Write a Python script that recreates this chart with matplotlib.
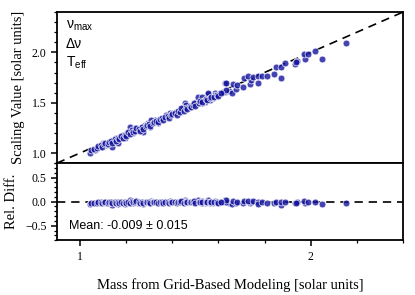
import numpy as np
import matplotlib
matplotlib.use("Agg")
import matplotlib.pyplot as plt
from matplotlib.ticker import MultipleLocator, FixedLocator

plt.rcParams['font.family'] = ['Liberation Serif', 'DejaVu Serif']
plt.rcParams['mathtext.fontset'] = 'custom'
plt.rcParams['mathtext.rm'] = 'Liberation Sans'

# mass from grid-based modeling vs. scaling-relation value
mass = [
    1.043, 1.065, 1.086, 1.100, 1.115, 1.129, 1.144, 1.158, 1.173, 1.187,
    1.202, 1.216, 1.223, 1.238, 1.252, 1.267, 1.281, 1.295, 1.310, 1.324,
    1.339, 1.137, 1.165, 1.194, 1.230, 1.274, 1.303,
    1.310, 1.317, 1.332, 1.353, 1.367, 1.375, 1.389, 1.403, 1.418, 1.432,
    1.454, 1.447, 1.461, 1.476, 1.490, 1.505, 1.512, 1.526, 1.541, 1.562,
    1.555, 1.577, 1.584, 1.606, 1.630, 1.630,
    1.530, 1.530, 1.540, 1.555, 1.575, 1.585, 1.605, 1.620,
    1.645, 1.635, 1.635, 1.660, 1.675, 1.665, 1.680, 1.705,
    1.735, 1.740, 1.710, 1.730, 1.750, 1.770, 1.770,
    1.790, 1.810, 1.870, 1.840, 1.850, 1.870, 1.890, 1.930, 1.940, 1.935,
    1.975, 1.970, 1.990, 2.020, 2.050, 2.155,
    1.050, 1.060, 1.075, 1.080, 1.090, 1.095, 1.105, 1.110, 1.120, 1.125,
    1.135, 1.140, 1.150, 1.155, 1.165, 1.170, 1.180, 1.185, 1.195, 1.200,
    1.210, 1.215, 1.225, 1.230, 1.240, 1.245, 1.255, 1.260, 1.270, 1.275,
    1.285, 1.290, 1.300, 1.305, 1.315, 1.320, 1.330, 1.340, 1.345, 1.355,
    1.360, 1.370, 1.380, 1.385, 1.395, 1.400, 1.410, 1.420, 1.425, 1.435,
    1.440, 1.450, 1.460, 1.465, 1.475, 1.480, 1.490, 1.495, 1.500, 1.515,
    1.520, 1.530, 1.545, 1.550, 1.565, 1.570, 1.580, 1.595, 1.600, 1.610,
]
scaling = [
    0.996, 1.029, 1.062, 1.096, 1.079, 1.112, 1.128, 1.145, 1.161, 1.178,
    1.195, 1.260, 1.211, 1.245, 1.228, 1.260, 1.277, 1.294, 1.310, 1.327,
    1.294, 1.062, 1.096, 1.145, 1.195, 1.211, 1.260,
    1.327, 1.294, 1.310, 1.327, 1.344, 1.376, 1.393, 1.393, 1.409, 1.426,
    1.493, 1.443, 1.476, 1.459, 1.476, 1.509, 1.559, 1.493, 1.509, 1.526,
    1.585, 1.542, 1.592, 1.592, 1.695, 1.605,
    1.495, 1.555, 1.525, 1.595, 1.555, 1.575, 1.595, 1.605,
    1.615, 1.625, 1.695, 1.595, 1.635, 1.685, 1.675, 1.655,
    1.690, 1.730, 1.750, 1.770, 1.760, 1.770, 1.700,
    1.770, 1.770, 1.750, 1.790, 1.850, 1.850, 1.890, 1.880, 1.910, 1.900,
    1.930, 1.980, 1.980, 2.010, 1.930, 2.090,
    1.030, 1.040, 1.050, 1.070, 1.080, 1.060, 1.090, 1.100, 1.090, 1.110,
    1.120, 1.100, 1.140, 1.120, 1.150, 1.140, 1.170, 1.150, 1.180, 1.170,
    1.210, 1.190, 1.230, 1.210, 1.220, 1.250, 1.240, 1.220, 1.260, 1.240,
    1.270, 1.280, 1.290, 1.270, 1.300, 1.310, 1.320, 1.310, 1.340, 1.350,
    1.330, 1.360, 1.370, 1.350, 1.380, 1.390, 1.400, 1.380, 1.420, 1.410,
    1.450, 1.420, 1.450, 1.440, 1.470, 1.460, 1.480, 1.500, 1.470, 1.500,
    1.520, 1.510, 1.540, 1.530, 1.550, 1.560, 1.560, 1.580, 1.570, 1.600,
]
mass = np.array(mass)
scaling = np.array(scaling)
rel_diff = (scaling - mass) / mass

xlim = (0.9, 2.4)
dot = dict(s=24, color='#14149e', alpha=0.8, edgecolors='white', linewidths=0.6, zorder=3)
sans = ['Liberation Sans', 'DejaVu Sans']

fig = plt.figure(figsize=(4.15, 2.95), dpi=100)
ax1 = fig.add_axes([0.137, 0.447, 0.834, 0.512])
ax2 = fig.add_axes([0.137, 0.186, 0.834, 0.261])

ax1.plot(xlim, xlim, color='black', linestyle=(0, (5, 3.5)), linewidth=1.2, zorder=2)
ax1.scatter(mass, scaling, **dot)
ax1.set_xlim(*xlim)
ax1.set_ylim(0.9, 2.4)
ax1.yaxis.set_major_locator(FixedLocator([1.0, 1.5, 2.0]))
ax1.yaxis.set_minor_locator(MultipleLocator(0.1))
ax1.set_xticks([])
ax1.set_ylabel("Scaling Value [solar units]", fontsize=10.5, labelpad=5)

ax1.text(0.025, 0.89, "ν$_{\\rm max}$", transform=ax1.transAxes, fontsize=10, family=sans)
ax1.text(0.025, 0.76, "Δν", transform=ax1.transAxes, fontsize=10, family=sans)
ax1.text(0.025, 0.64, "T$_{\\rm eff}$", transform=ax1.transAxes, fontsize=10, family=sans)

ax2.axhline(0, color='black', linestyle=(0, (5, 3.5)), linewidth=1.2, zorder=2)
ax2.scatter(mass, rel_diff, **dot)
ax2.set_xlim(*xlim)
ax2.set_ylim(-0.8, 0.8)
ax2.yaxis.set_major_locator(FixedLocator([-0.5, 0.0, 0.5]))
ax2.yaxis.set_minor_locator(MultipleLocator(0.1))
ax2.xaxis.set_major_locator(FixedLocator([1, 2]))
ax2.xaxis.set_minor_locator(MultipleLocator(0.2))
ax2.set_xticklabels(["1", "2"])
ax2.set_ylabel("Rel. Diff.", fontsize=10.5, labelpad=5)
ax2.set_xlabel("Mass from Grid-Based Modeling [solar units]", fontsize=10.5, labelpad=11)
ax2.text(0.035, 0.15, "Mean: -0.009 ± 0.015", transform=ax2.transAxes, fontsize=9, family=sans)

for ax in (ax1, ax2):
    for sp in ax.spines.values():
        sp.set_linewidth(1.3)
    ax.tick_params(which='major', length=4, width=1.1, labelsize=8.5, direction='out')
    ax.tick_params(which='minor', length=2.5, width=0.9, direction='out')
    ax.tick_params(axis='x', which='both', top=False)
    ax.tick_params(axis='y', which='both', right=False)

fig.savefig("out.png", dpi=100)
